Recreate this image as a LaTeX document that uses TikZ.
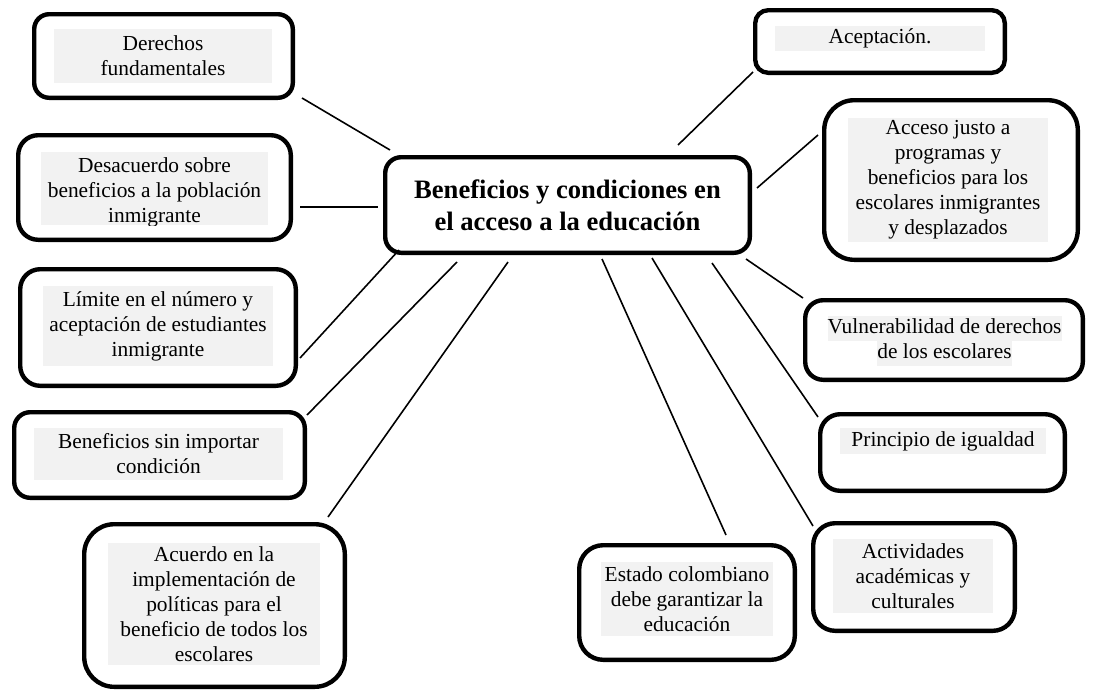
\documentclass[tikz,border=0pt]{standalone}
\usepackage{fontspec}
\setmainfont{Liberation Serif}
\definecolor{fondogris}{RGB}{242,242,242}
\newcommand{\resalta}[1]{{\setlength{\fboxsep}{0pt}\colorbox{fondogris}{\strut #1}}}

\begin{document}
\begin{tikzpicture}[x=0.5pt,y=-0.5pt,
    caja/.style={draw=black,line width=2.2pt,fill=white,inner sep=0pt},
    texto/.style={inner sep=0pt,align=flush center,font=\fontsize{10.7}{12.5}\selectfont},
    fondo/.style={texto,fill=fondogris},
    enlace/.style={line width=0.8pt}]
    \fill[white] (0,0) rectangle (1101,691);
    % cajas
    \node[caja,minimum width=182.3pt,minimum height=47.8pt,rounded corners=8pt,align=flush center,
          font=\bfseries\fontsize{13.3}{16}\selectfont] (central) at (567.5,205)
          {Beneficios y condiciones en\\el acceso a la educación};
    \node[caja,minimum width=129.3pt,minimum height=41.8pt,rounded corners=7.5pt] (derechos) at (163.5,56) {};
    \node[caja,minimum width=136.3pt,minimum height=52.3pt,rounded corners=10pt] (desacuerdo) at (154.5,187.5) {};
    \node[caja,minimum width=137.8pt,minimum height=58.3pt,rounded corners=10pt] (limite) at (158,327.5) {};
    \node[caja,minimum width=145.3pt,minimum height=42.8pt,rounded corners=8pt] (sinimportar) at (159.5,455) {};
    \node[caja,minimum width=130.3pt,minimum height=81.3pt,rounded corners=15pt] (acuerdo) at (214.5,605.5) {};
    \node[caja,minimum width=107.8pt,minimum height=57.3pt,rounded corners=12pt] (estado) at (687,602.5) {};
    \node[caja,minimum width=100.8pt,minimum height=53.8pt,rounded corners=11pt] (actividades) at (914,577) {};
    \node[caja,minimum width=122.3pt,minimum height=38.3pt,rounded corners=10pt] (principio) at (942.5,452.5) {};
    \node[caja,minimum width=138.8pt,minimum height=39.8pt,rounded corners=9pt] (vulnerab) at (944,340) {};
    \node[caja,minimum width=126.8pt,minimum height=79.8pt,rounded corners=15pt] (acceso) at (951,180) {};
    \node[caja,minimum width=124.8pt,minimum height=31.3pt,rounded corners=6.5pt] (aceptacion) at (880,41.5) {};
    % textos
    \node[fondo,text width=109pt,minimum height=27pt] (derechos-t) at (163,56) {Derechos\\fundamentales};
    \begin{scope}
      \node[fondo,text width=113.5pt,minimum height=36.5pt] (desacuerdo-f) at (154.5,188.5) {};
      \clip (desacuerdo-f.north west) rectangle (desacuerdo-f.south east);
      \node[texto,text width=113.5pt] (desacuerdo-t) at (154.5,192.5)
            {Desacuerdo sobre\\beneficios a la población\\inmigrante};
    \end{scope}
    \node[fondo,text width=115pt,minimum height=40pt] (limite-t) at (158,326)
          {Límite en el número y\\aceptación de estudiantes\\inmigrante};
    \node[fondo,text width=124.5pt,minimum height=26pt] (sinimportar-t) at (158.5,454)
          {Beneficios sin importar\\condición};
    \node[fondo,text width=106pt,minimum height=61pt] (acuerdo-t) at (214,604)
          {Acuerdo en la\\implementación de\\políticas para el\\beneficio de todos los\\escolares};
    \node[fondo,text width=86pt,minimum height=37pt] (estado-t) at (687,599)
          {Estado colombiano\\debe garantizar la\\educación};
    \node[fondo,text width=80pt,minimum height=37pt] (actividades-t) at (913,576)
          {Actividades\\académicas y\\culturales};
    \node[fondo,text width=103pt,minimum height=13pt] (principio-t) at (943,441) {Principio de igualdad};
    \node[texto] (vulnerab-t) at (944.5,340.5)
          {\resalta{Vulnerabilidad de derechos}\\\resalta{de los escolares}};
    \node[fondo,text width=100pt,minimum height=62pt] (acceso-t) at (948,180)
          {Acceso justo a\\programas y\\beneficios para los\\escolares inmigrantes\\y desplazados};
    \node[fondo,text width=105pt,minimum height=12.5pt] (aceptacion-t) at (880,38.5) {Aceptación.};
    % enlaces
    \draw[enlace] ([shift={(7,-2)}]derechos.south east) -- ([shift={(7,-5)}]central.north west);
    \draw[enlace] ([shift={(7,19.5)}]desacuerdo.east) -- ([shift={(-5,2)}]central.west);
    \draw[enlace] ([shift={(2,-30)}]limite.south east) -- ([shift={(16,-5)}]central.south west);
    \draw[enlace] ([shift={(0,5)}]sinimportar.north east) -- ([shift={(74,7)}]central.south west);
    \draw[enlace] ([shift={(-19,-5)}]acuerdo.north east) -- ([shift={(125,7)}]central.south west);
    \draw[enlace] ([shift={(39,-8)}]estado.north) -- ([shift={(34.5,4)}]central.south);
    \draw[enlace] ([shift={(2,5)}]actividades.north west) -- ([shift={(84.5,3)}]central.south);
    \draw[enlace] ([shift={(0,5)}]principio.north west) -- ([shift={(-40,8)}]central.south east);
    \draw[enlace] (vulnerab.north west) -- ([shift={(-6,4)}]central.south east);
    \draw[enlace] ([shift={(-4,37)}]acceso.north west) -- ([shift={(5,-17)}]central.east);
    \draw[enlace] ([shift={(0,-3)}]aceptacion.south west) -- ([shift={(-74,-10)}]central.north east);
\end{tikzpicture}
\end{document}
